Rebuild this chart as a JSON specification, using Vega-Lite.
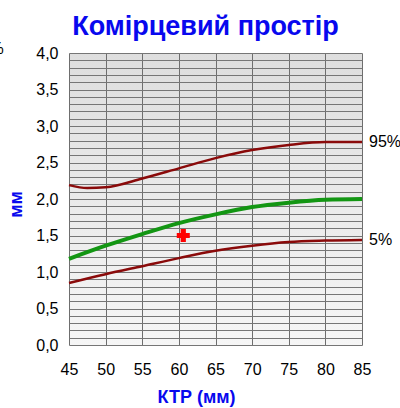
{
  "$schema": "https://vega.github.io/schema/vega-lite/v6.json",
  "width": 293,
  "height": 292,
  "autosize": {"type": "none"},
  "padding": {"left": 69, "top": 53, "right": 38, "bottom": 63},
  "background": "white",
  "config": {
    "font": "Liberation Sans",
    "view": {
      "stroke": null,
      "fill": {"gradient": "linear", "x1": 0, "y1": 0, "x2": 0, "y2": 1, "stops": [{"offset": 0, "color": "#dedede"}, {"offset": 1, "color": "#f6f6f6"}]}
    }
  },
  "title": {
    "text": "Комірцевий простір",
    "font": "Liberation Sans",
    "fontSize": 27,
    "fontWeight": "bold",
    "color": "#0808ee",
    "anchor": "middle",
    "dx": -10,
    "offset": 0
  },
  "datasets": {
    "curves": [
      {"ktr": 45, "mm": 2.19, "series": "p95"},
      {"ktr": 47.5, "mm": 2.15, "series": "p95"},
      {"ktr": 50, "mm": 2.16, "series": "p95"},
      {"ktr": 55, "mm": 2.28, "series": "p95"},
      {"ktr": 60, "mm": 2.42, "series": "p95"},
      {"ktr": 65, "mm": 2.56, "series": "p95"},
      {"ktr": 70, "mm": 2.67, "series": "p95"},
      {"ktr": 75, "mm": 2.74, "series": "p95"},
      {"ktr": 80, "mm": 2.78, "series": "p95"},
      {"ktr": 85, "mm": 2.78, "series": "p95"},
      {"ktr": 45, "mm": 1.18, "series": "p50"},
      {"ktr": 50, "mm": 1.36, "series": "p50"},
      {"ktr": 55, "mm": 1.52, "series": "p50"},
      {"ktr": 60, "mm": 1.67, "series": "p50"},
      {"ktr": 65, "mm": 1.79, "series": "p50"},
      {"ktr": 70, "mm": 1.89, "series": "p50"},
      {"ktr": 75, "mm": 1.95, "series": "p50"},
      {"ktr": 80, "mm": 1.99, "series": "p50"},
      {"ktr": 85, "mm": 2.0, "series": "p50"},
      {"ktr": 45, "mm": 0.85, "series": "p5"},
      {"ktr": 50, "mm": 0.97, "series": "p5"},
      {"ktr": 55, "mm": 1.08, "series": "p5"},
      {"ktr": 60, "mm": 1.19, "series": "p5"},
      {"ktr": 65, "mm": 1.29, "series": "p5"},
      {"ktr": 70, "mm": 1.36, "series": "p5"},
      {"ktr": 75, "mm": 1.41, "series": "p5"},
      {"ktr": 80, "mm": 1.43, "series": "p5"},
      {"ktr": 85, "mm": 1.44, "series": "p5"}
    ],
    "labels": [
      {"ktr": 85, "mm": 2.78, "label": "95%"},
      {"ktr": 85, "mm": 1.44, "label": "5%"}
    ],
    "point": [{"ktr": 60.6, "mm": 1.5}],
    "stray": [{"ktr": 36.1, "mm": 4.0, "label": "%"}]
  },
  "encoding": {
    "x": {
      "field": "ktr", "type": "quantitative",
      "scale": {"domain": [45, 85], "nice": false, "zero": false},
      "axis": {
        "values": [45, 50, 55, 60, 65, 70, 75, 80, 85],
        "title": "КТР (мм)",
        "titleFont": "Liberation Sans",
        "titleFontSize": 18,
        "titleFontWeight": "bold",
        "titleColor": "#0808ee",
        "titlePadding": 11,
        "titleX": 127,
        "labelFontSize": 16,
        "labelColor": "#000000",
        "labelPadding": 16,
        "labelFlush": false,
        "ticks": false,
        "domain": false,
        "grid": true,
        "gridColor": "#6e6e6e",
        "gridWidth": 1
      }
    },
    "y": {
      "field": "mm", "type": "quantitative",
      "scale": {"domain": [0, 4], "nice": false},
      "axis": {
        "values": [0, 0.1, 0.2, 0.3, 0.4, 0.5, 0.6, 0.7, 0.8, 0.9, 1.0, 1.1, 1.2, 1.3, 1.4, 1.5, 1.6, 1.7, 1.8, 1.9, 2.0, 2.1, 2.2, 2.3, 2.4, 2.5, 2.6, 2.7, 2.8, 2.9, 3.0, 3.1, 3.2, 3.3, 3.4, 3.5, 3.6, 3.7, 3.8, 3.9, 4.0],
        "labelExpr": "abs(datum.value*2 - round(datum.value*2)) < 0.001 ? replace(format(datum.value, '.1f'), '.', ',') : ''",
        "title": "мм",
        "titleFont": "Liberation Sans",
        "titleFontSize": 18,
        "titleFontWeight": "bold",
        "titleColor": "#0808ee",
        "titlePadding": 10,
        "titleY": 151,
        "labelFontSize": 16,
        "labelColor": "#000000",
        "labelPadding": 11,
        "labelFlush": false,
        "labelOverlap": false,
        "ticks": false,
        "domain": false,
        "grid": true,
        "gridColor": "#767676",
        "gridWidth": 1
      }
    }
  },
  "layer": [
    {
      "data": {"name": "curves"},
      "transform": [{"filter": "datum.series != 'p50'"}],
      "mark": {"type": "line", "interpolate": "monotone", "color": "#8a0a0a", "strokeWidth": 2.5},
      "encoding": {"detail": {"field": "series"}}
    },
    {
      "data": {"name": "curves"},
      "transform": [{"filter": "datum.series == 'p50'"}],
      "mark": {"type": "line", "interpolate": "monotone", "color": "#139613", "strokeWidth": 4},
      "encoding": {}
    },
    {
      "data": {"name": "point"},
      "mark": {"type": "point", "shape": "cross", "filled": true, "color": "#ff0000", "size": 170, "opacity": 1},
      "encoding": {}
    },
    {
      "data": {"name": "labels"},
      "mark": {"type": "text", "align": "left", "baseline": "middle", "dx": 7, "fontSize": 16, "color": "#000000", "clip": false},
      "encoding": {"text": {"field": "label"}}
    },
    {
      "data": {"name": "stray"},
      "mark": {"type": "text", "align": "right", "baseline": "middle", "fontSize": 16, "color": "#000000", "dy": -4},
      "encoding": {"text": {"field": "label"}}
    }
  ]
}
